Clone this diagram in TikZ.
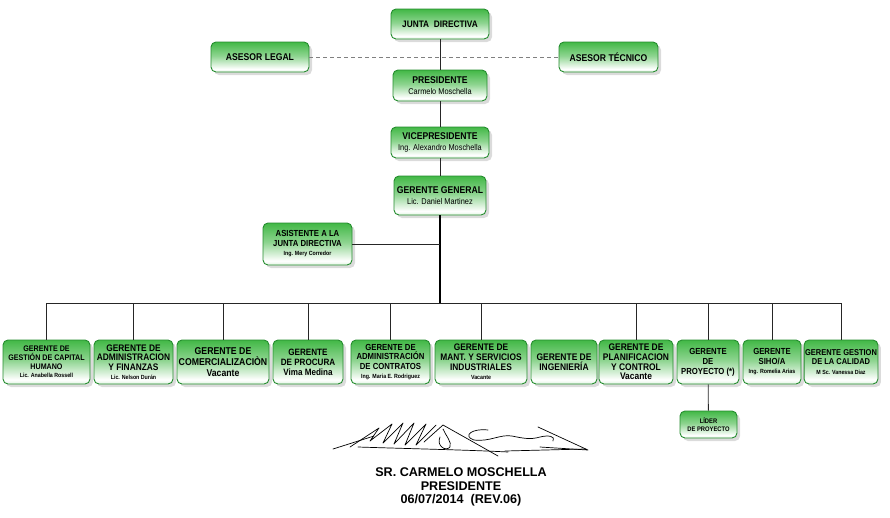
\documentclass[tikz,border=0pt]{standalone}
\usepackage{fontspec}
\setmainfont{Liberation Sans}
\newfontfamily\orgfont{Liberation Sans}[FakeStretch=0.88]
\usetikzlibrary{shadows}
\definecolor{verde}{RGB}{66,184,70}
\definecolor{borde}{RGB}{36,140,46}
\pgfdeclareverticalshading{verdeorg}{100bp}{color(0bp)=(verde); color(12bp)=(verde!55); color(30bp)=(white); color(52bp)=(verde!60); color(75bp)=(verde); color(100bp)=(verde)}
\newcommand{\nombre}[1]{{\mdseries\fontsize{8.4}{9}\selectfont #1}}
\newcommand{\nomb}[1]{{\fontsize{6}{7}\selectfont #1}}

\begin{document}
\begin{tikzpicture}[x=1pt, y=-1pt,
  cargo/.style={rounded corners=5pt, draw=borde, line width=0.9pt, shade, shading=verdeorg,
    drop shadow={shadow xshift=3pt, shadow yshift=-3pt, fill=black!28},
    align=center, inner sep=1pt, font=\orgfont\bfseries\fontsize{9.8}{10.4}\selectfont},
  caja/.style 2 args={minimum width=#1pt, minimum height=#2pt},
  letra/.style 2 args={font=\orgfont\bfseries\fontsize{#1}{#2}\selectfont}]

\useasboundingbox (0,0) rectangle (890,517);

\begin{scope}[every node/.style={cargo}]
\node (jd) at (440, 24) [caja={98}{30}, letra={9.4}{10}] {JUNTA\ \ DIRECTIVA};
\node (legal) at (260, 57) [caja={98}{30}] {ASESOR LEGAL};
\node (tecnico) at (608.5, 57) [caja={99}{30}] {ASESOR TÉCNICO};
\node (pres) at (440, 85.5) [caja={94}{31}] {PRESIDENTE\\\nombre{Carmelo Moschella}};
\node (vice) at (440, 142.5) [caja={98}{31}] {VICEPRESIDENTE\\\nombre{Ing. Alexandro Moschella}};
\node (gg) at (440, 195.5) [caja={92}{39}] {GERENTE GENERAL\\\nombre{Lic. Daniel Martinez}};
\node (asist) at (307.5, 244) [caja={89}{42}, letra={8.8}{9.5}] {ASISTENTE A LA\\JUNTA DIRECTIVA\\\nomb{Ing. Mery Corredor}};
\node (g1) at (46.5, 362) [caja={87}{44}, letra={8.1}{8.7}] {GERENTE DE\\GESTIÓN DE CAPITAL\\HUMANO\\\nomb{Lic. Anabella Rossell}};
\node (g2) at (133.5, 362) [caja={79}{44}, letra={9.5}{9.5}] {GERENTE DE\\ADMINISTRACION\\Y FINANZAS\\\nomb{Lic. Nelson Durán}};
\node (g3) at (223, 362) [caja={92}{44}, letra={9.9}{11}] {GERENTE DE\\COMERCIALIZACIÒN\\Vacante};
\node (g4) at (308, 362) [caja={70}{44}, letra={9.2}{10}] {GERENTE\\DE PROCURA\\Vima Medina};
\node (g5) at (390.5, 362) [caja={79}{44}, letra={8.8}{9.2}] {GERENTE DE\\ADMINISTRACIÓN\\DE CONTRATOS\\\nomb{Ing. Maria E. Rodriguez}};
\node (g6) at (481, 362) [caja={92}{44}, letra={9.5}{9.7}] {GERENTE DE\\MANT. Y SERVICIOS\\INDUSTRIALES\\\nomb{Vacante}};
\node (g7) at (564, 362) [caja={66}{44}, letra={9.6}{10.5}] {GERENTE DE\\INGENIERÍA};
\node (g8) at (636, 362) [caja={74}{44}, letra={9.6}{9.7}] {GERENTE DE\\PLANIFICACION\\Y CONTROL\\Vacante};
\node (g9) at (708, 362) [caja={62}{44}, letra={8.8}{10}] {GERENTE\\DE\\PROYECTO (*)};
\node (g10) at (772, 362) [caja={58}{44}, letra={8.8}{9.5}] {GERENTE\\SIHO/A\\\nomb{Ing. Romelia Arias}};
\node (g11) at (841, 362) [caja={72}{44}, letra={8.5}{9.5}] {GERENTE GESTION\\DE LA CALIDAD\\\nomb{M Sc. Vanessa Diaz}};
\node (lider) at (708.5, 424.5) [caja={57}{27}, letra={6.6}{7.5}] {LÍDER\\DE PROYECTO};
\end{scope}

\coordinate (bus) at (440, 303);
\begin{scope}[line width=0.8pt, black!85]
\draw (jd) -- (pres);
\draw (pres) -- (vice);
\draw (vice) -- (gg);
\draw [gray, dash pattern=on 4pt off 3pt] (legal) -- (tecnico);
\draw [line width=2pt, black] (gg) -- (bus);
\draw (asist) -- (asist -| gg);
\draw (g1.north |- bus) -- (g11.north |- bus);
\foreach \g in {g1, g2, g3, g4, g5, g6, g8, g9, g10, g11}
  \draw (\g) -- (\g |- bus);
\draw (g9) -- (lider);
\end{scope}

\begin{scope}[line width=0.7pt, line cap=round, line join=round]
\draw (333,449) -- (374,436);
\draw (350,447) -- (379,428) -- (370,441) -- (392,424) -- (383,443) -- (403,423) -- (394,444) -- (414,423) -- (405,445) -- (426,424) -- (416,445) -- (436,425);
\draw (424,442) -- (443,425) -- (498,456);
\draw (440,437) .. controls (436,446) and (446,452) .. (450,447) .. controls (452,442) and (446,436) .. (443,429);
\draw (358,447) .. controls (420,449) and (470,450) .. (508,452);
\draw (488,430) .. controls (472,428) and (462,436) .. (474,440) .. controls (490,442) and (500,434) .. (512,436) .. controls (522,438) and (530,440) .. (540,437) .. controls (548,435) and (556,436) .. (553,441);
\draw (538,427) -- (588,450) -- (540,447);
\draw (505,451) -- (585,449);
\end{scope}

\node (firmante) at (461, 487) [align=center, font=\bfseries\fontsize{12.6}{13.5}\selectfont] {SR. CARMELO MOSCHELLA\\PRESIDENTE\\06/07/2014\ \ (REV.06)};

\end{tikzpicture}
\end{document}
